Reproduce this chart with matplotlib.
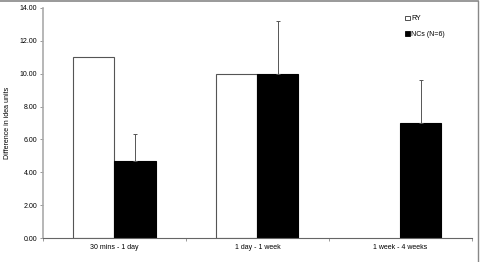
import matplotlib.pyplot as plt
import numpy as np
from matplotlib.lines import Line2D
from matplotlib.patches import Patch

plt.rcParams["font.family"] = ["Liberation Sans", "DejaVu Sans"]

categories = ["30 mins - 1 day", "1 day - 1 week", "1 week - 4 weeks"]
ry_values = [11.0, 10.0, np.nan]
nc_values = [4.67, 10.0, 7.0]
nc_err = [1.63, 3.23, 2.62]
yticks = [0, 2, 4, 6, 8, 10, 12, 14]

fig = plt.figure(figsize=(4.8, 2.62), dpi=100)
ax = fig.add_axes([0.0896, 0.0916, 0.8934, 0.878])

x = np.arange(len(categories))
w = 0.287
ax.bar(x - w / 2, ry_values, width=w, color="white", edgecolor="#555555", linewidth=0.8, label="RY")
ax.bar(x + w / 2, nc_values, width=w, color="black", edgecolor="black", linewidth=0.8, label="NCs (N=6)")
ax.errorbar(x + w / 2, nc_values, yerr=[np.zeros(3), nc_err], fmt="none",
            ecolor="#555555", elinewidth=0.7, capsize=1.5, capthick=0.7)

ax.set_xlim(-0.5, 2.5)
ax.set_ylim(0, 14)
ax.set_yticks(yticks)
ax.set_yticklabels([f"{v:.2f}" for v in yticks], fontsize=5)
ax.set_xticks(x)
ax.set_xticklabels(categories, fontsize=5)
ax.tick_params(axis="x", length=0, pad=4)
ax.tick_params(axis="y", length=2, width=0.6, color="#888888", pad=2)
ax.set_xticks([-0.5, 0.5, 1.5, 2.5], minor=True)
ax.tick_params(axis="x", which="minor", length=2, width=0.6, color="#888888")
ax.set_ylabel("Difference in idea units", fontsize=5, labelpad=6)

for s in ["top", "right"]:
    ax.spines[s].set_visible(False)
ax.spines["left"].set_color("#aaaaaa")
ax.spines["left"].set_linewidth(1.2)
ax.spines["bottom"].set_color("#666666")
ax.spines["bottom"].set_linewidth(0.8)

handles = [Patch(facecolor="white", edgecolor="#333333", linewidth=0.6),
           Patch(facecolor="black", edgecolor="black", linewidth=0.6)]
ax.legend(handles, ["RY", "NCs (N=6)"], loc="upper left", bbox_to_anchor=(0.83, 0.995),
          frameon=False, fontsize=5, handlelength=0.7, handleheight=0.7,
          handletextpad=0.2, labelspacing=1.2)

# outer frame lines (top and right)
fig.add_artist(Line2D([0, 0.996], [0.998, 0.998], transform=fig.transFigure, color="#888888", linewidth=1.2))
fig.add_artist(Line2D([0.996, 0.996], [0, 0.998], transform=fig.transFigure, color="#888888", linewidth=1.0))

fig.savefig("out.png", dpi=100)
